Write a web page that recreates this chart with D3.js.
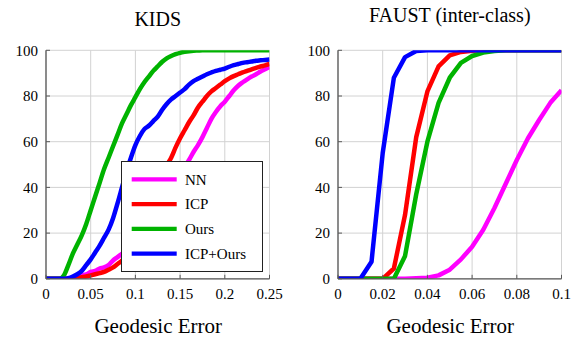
<!DOCTYPE html>
<html>
<head>
<meta charset="utf-8">
<script src="https://cdn.jsdelivr.net/npm/d3@7"></script>
<style>
  html, body { margin: 0; padding: 0; background: #fff; }
  svg { display: block; }
  text { font-family: "Liberation Serif", "Times New Roman", serif; fill: #000; }
</style>
</head>
<body>
<svg id="chart" width="578" height="337"></svg>
<script>
// ---------------- DATA ----------------
const seriesNames = ["NN", "ICP", "Ours", "ICP+Ours"];
const yTicks = [0, 20, 40, 60, 80, 100];

// KIDS
const kidsX = [0,0.005,0.01,0.015,0.02,0.025,0.03,0.035,0.04,0.045,0.05,0.055,0.06,0.065,0.07,0.075,0.08,0.085,0.09,0.095,0.1,0.105,0.11,0.115,0.12,0.125,0.13,0.135,0.14,0.145,0.15,0.155,0.16,0.165,0.17,0.175,0.18,0.185,0.19,0.195,0.2,0.205,0.21,0.215,0.22,0.225,0.23,0.235,0.24,0.245,0.25];
const kidsNN = [0,0,0,0,0,0,0.5,1,1.5,2,3,3.5,4.5,5,6,8,9.5,11,12.5,14,16,18,20,22.5,25,28,31,34.5,38,42,45.5,49,52,55.5,58.5,62,66,70,73,75.5,77.5,80,82.5,84.5,86,87.3,88.5,89.5,90.7,91.7,92.7];
const kidsICP = [0,0,0,0,0,0,0.2,0.4,0.7,1,1.5,2,2.5,3,4,5,6.5,8,10.5,13.5,17,21,25.5,30,35,40,45,49.5,53,57.5,61.5,65,68.5,71.5,75,77.5,80,82,83.5,85,86.5,87.7,88.7,89.5,90.3,91,91.7,92.3,92.9,93.4,94];
const kidsOurs = [0,0,0,0,1.5,6,11,15,19,24,30,36,42,48,53,58,63,68,72,76,79.5,83,86,88.5,91,93,95,96.5,97.5,98.3,98.9,99.3,99.6,99.8,99.9,100,100,100,100,100,100,100,100,100,100,100,100,100,100,100,100];
const kidsICPOurs = [0,0,0,0,0,0.3,1,2,3.5,6,8.5,11.5,14.5,18,21.5,26.5,33,40,47,53,58.5,62.5,65.5,67,69,71,74,76.5,78.5,80,81.5,83,85,86.5,87.5,88.5,89.5,90.3,91,91.5,92,92.8,93.5,94,94.5,94.8,95.1,95.4,95.6,95.8,96];

// FAUST (inter-class)
const faustX = [0,0.005,0.01,0.015,0.02,0.025,0.03,0.035,0.04,0.045,0.05,0.055,0.06,0.065,0.07,0.075,0.08,0.085,0.09,0.095,0.1];
const faustNN = [0,0,0,0,0,0,0,0.2,0.5,1.5,4,8.5,14,21.5,31,41.5,52,61.5,69.5,77,82.5];
const faustICP = [0,0,0,0,0,4.5,28,62,82,93,97.8,99.3,99.8,100,100,100,100,100,100,100,100];
const faustOurs = [0,0,0,0,0,0,10,37,60,77,88,94.5,97.5,99,99.7,100,100,100,100,100,100];
const faustICPOurs = [0,0,0,7.5,55,88,97,99.7,100,100,100,100,100,100,100,100,100,100,100,100,100];

const kidsTicks = [0, 0.05, 0.1, 0.15, 0.2, 0.25];
const kidsTickLabels = ["0", "0.05", "0.1", "0.15", "0.2", "0.25"];
const faustTicks = [0, 0.02, 0.04, 0.06, 0.08, 0.1];
const faustTickLabels = ["0", "0.02", "0.04", "0.06", "0.08", "0.1"];

// ---------------- STYLE ----------------
const colors = ["#ff00ff", "#ff0000", "#00b300", "#0000ff"];
const lineW = 4.5;

const svg = d3.select("#chart");
const yTop = 50.3, yBot = 278.8;

const panels = [
  { id: "kids", title: "KIDS", titleY: 26, x0: 46, x1: 269.5, domain: [0, 0.25],
    ticks: kidsTicks, labels: kidsTickLabels, xs: kidsX,
    ys: [kidsNN, kidsICP, kidsOurs, kidsICPOurs], curve: d3.curveMonotoneX, legend: true },
  { id: "faust", title: "FAUST (inter-class)", titleY: 22, x0: 338, x1: 561.5, domain: [0, 0.1],
    ticks: faustTicks, labels: faustTickLabels, xs: faustX,
    ys: [faustNN, faustICP, faustOurs, faustICPOurs], curve: d3.curveLinear, legend: false }
];

const y = d3.scaleLinear().domain([0, 100]).range([yBot, yTop]);

panels.forEach(p => {
  const x = d3.scaleLinear().domain(p.domain).range([p.x0, p.x1]);
  const g = svg.append("g");

  // clip
  svg.append("clipPath").attr("id", "clip-" + p.id)
    .append("rect").attr("x", p.x0).attr("y", yTop).attr("width", p.x1 - p.x0).attr("height", yBot - yTop);

  // grid
  g.append("g").selectAll("line").data(p.ticks).join("line")
    .attr("x1", d => x(d)).attr("x2", d => x(d)).attr("y1", yTop).attr("y2", yBot)
    .attr("stroke", "#d2d2d2").attr("stroke-width", 1);
  g.append("g").selectAll("line").data(yTicks).join("line")
    .attr("x1", p.x0).attr("x2", p.x1).attr("y1", d => y(d)).attr("y2", d => y(d))
    .attr("stroke", "#d2d2d2").attr("stroke-width", 1);

  // curves
  const cg = g.append("g").attr("clip-path", "url(#clip-" + p.id + ")");
  p.ys.forEach((vals, i) => {
    const pts = p.xs.map((xv, k) => [xv, vals[k]]);
    cg.append("path").datum(pts)
      .attr("fill", "none").attr("stroke", colors[i]).attr("stroke-width", lineW)
      .attr("stroke-linejoin", "round")
      .attr("d", d3.line().x(d => x(d[0])).y(d => y(d[1])).curve(p.curve));
  });

  // axes (left & bottom)
  const axisColor = "#5a5a5a";
  g.append("line").attr("x1", p.x0).attr("x2", p.x0).attr("y1", yTop).attr("y2", yBot)
    .attr("stroke", axisColor).attr("stroke-width", 1.3);
  g.append("line").attr("x1", p.x0).attr("x2", p.x1).attr("y1", yBot).attr("y2", yBot)
    .attr("stroke", axisColor).attr("stroke-width", 1.3);
  // ticks inward
  g.append("g").selectAll("line").data(yTicks).join("line")
    .attr("x1", p.x0).attr("x2", p.x0 + 4).attr("y1", d => y(d)).attr("y2", d => y(d))
    .attr("stroke", axisColor).attr("stroke-width", 1);
  g.append("g").selectAll("line").data(p.ticks).join("line")
    .attr("x1", d => x(d)).attr("x2", d => x(d)).attr("y1", yBot).attr("y2", yBot - 4)
    .attr("stroke", axisColor).attr("stroke-width", 1);

  // tick labels
  g.append("g").selectAll("text").data(yTicks).join("text")
    .attr("x", p.x0 - 8).attr("y", d => y(d) + 5.3)
    .attr("text-anchor", "end").attr("font-size", 15).text(d => d);
  g.append("g").selectAll("text").data(p.ticks).join("text")
    .attr("x", d => x(d)).attr("y", 298.5)
    .attr("text-anchor", "middle").attr("font-size", 15).text((d, i) => p.labels[i]);

  // title & axis label
  g.append("text").attr("x", (p.x0 + p.x1) / 2).attr("y", p.titleY)
    .attr("text-anchor", "middle").attr("font-size", 20).text(p.title);
  g.append("text").attr("x", (p.x0 + p.x1) / 2 + 0.5).attr("y", 333)
    .attr("text-anchor", "middle").attr("font-size", 21).text("Geodesic Error");

  // legend
  if (p.legend) {
    const lg = g.append("g");
    lg.append("rect").attr("x", 121.5).attr("y", 161.5).attr("width", 141).attr("height", 110)
      .attr("fill", "#fff").attr("stroke", "#222").attr("stroke-width", 1);
    seriesNames.forEach((name, i) => {
      const ly = 179.3 + i * 24.75;
      lg.append("line").attr("x1", 131.7).attr("x2", 176.7).attr("y1", ly).attr("y2", ly)
        .attr("stroke", colors[i]).attr("stroke-width", 4.2);
      lg.append("text").attr("x", 185).attr("y", ly + 5.2).attr("font-size", 15).text(name);
    });
  }
});
</script>
</body>
</html>
